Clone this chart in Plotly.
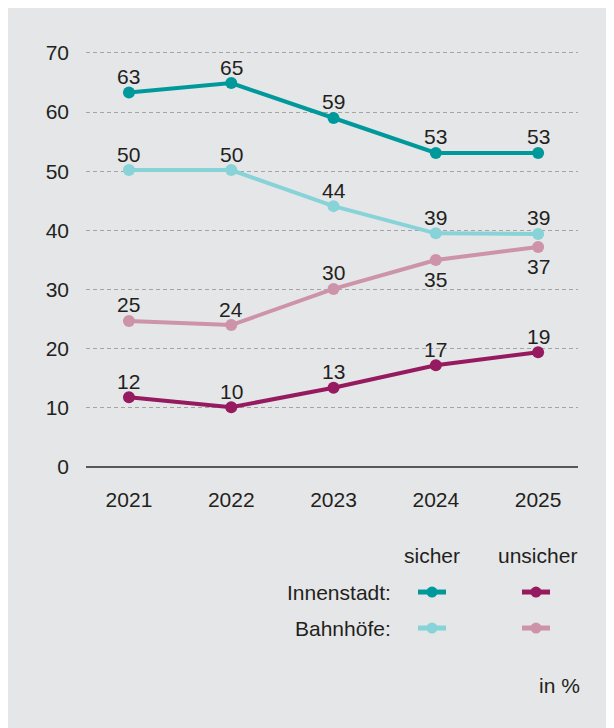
import plotly.graph_objects as go

years = [2021, 2022, 2023, 2024, 2025]
innen_sicher = [63.3, 64.9, 59.0, 53.1, 53.1]
bahn_sicher = [50.2, 50.2, 44.1, 39.5, 39.4]
bahn_unsicher = [24.7, 24.0, 30.1, 35.0, 37.2]
innen_unsicher = [11.8, 10.1, 13.4, 17.2, 19.4]

lbl_innen_sicher = ["63", "65", "59", "53", "53"]
lbl_bahn_sicher = ["50", "50", "44", "39", "39"]
lbl_bahn_unsicher = ["25", "24", "30", "35", "37"]
lbl_innen_unsicher = ["12", "10", "13", "17", "19"]
below_bahn_unsicher = [False, False, False, True, True]

y_ticks = [0, 10, 20, 30, 40, 50, 60, 70]
x_ticktext = ["2021", "2022", "2023", "2024", "2025"]

C_TEAL = "#00999b"
C_CYAN = "#88d3d8"
C_MAG = "#961a5f"
C_PINK = "#cd93a8"
BG = "#e5e6e8"
TXT = "#231f20"
FONT = "Liberation Sans, Arial, sans-serif"
FS = 21

OFF = 8  # page body margin
W, H = 614 - OFF, 728 - OFF
Y_MAX = 71
PX_PER_UNIT = (467 - 53) / 70
L, R, B = 86 - OFF, 578 - OFF, 467 - OFF
T = B - PX_PER_UNIT * Y_MAX  # plot area top in figure px


def px_x(px):
    return (px - OFF - L) / (R - L)


def px_y(py):
    return (B - (py - OFF)) / (B - T)


fig = go.Figure()
annotations = []


def add_series(vals, labels, color, below=None):
    fig.add_trace(go.Scatter(
        x=years, y=vals, mode="lines+markers",
        line=dict(color=color, width=4),
        marker=dict(color=color, size=12),
        cliponaxis=False, showlegend=False, hoverinfo="skip",
    ))
    for i, (xv, yv, t) in enumerate(zip(years, vals, labels)):
        b = below[i] if below else False
        annotations.append(dict(
            x=xv, y=yv, xref="x", yref="y", text=t, showarrow=False,
            xanchor="center", yanchor="middle", yshift=-20 if b else 16,
            font=dict(family=FONT, size=FS, color=TXT)))


add_series(bahn_unsicher, lbl_bahn_unsicher, C_PINK, below_bahn_unsicher)
add_series(innen_unsicher, lbl_innen_unsicher, C_MAG)
add_series(bahn_sicher, lbl_bahn_sicher, C_CYAN)
add_series(innen_sicher, lbl_innen_sicher, C_TEAL)

shapes = []
legend_items = [
    (px_x(432), px_y(592), C_TEAL),
    (px_x(536), px_y(592), C_MAG),
    (px_x(432), px_y(628), C_CYAN),
    (px_x(536), px_y(628), C_PINK),
]
for xc, yc, col in legend_items:
    shapes.append(dict(type="line", xref="paper", yref="paper",
                       xsizemode="pixel", xanchor=xc, x0=-14, x1=14,
                       y0=yc, y1=yc, line=dict(color=col, width=5)))
    shapes.append(dict(type="circle", xref="paper", yref="paper",
                       xsizemode="pixel", ysizemode="pixel",
                       xanchor=xc, yanchor=yc, x0=-5.5, x1=5.5, y0=-5.5, y1=5.5,
                       fillcolor=col, line=dict(width=0)))

legend_texts = [
    dict(text="sicher", x=px_x(432), y=px_y(555), xanchor="center"),
    dict(text="unsicher", x=px_x(537), y=px_y(555), xanchor="center"),
    dict(text="Innenstadt:", x=px_x(393), y=px_y(592), xanchor="right"),
    dict(text="Bahnhöfe:", x=px_x(393), y=px_y(628), xanchor="right"),
    dict(text="in %", x=px_x(582), y=px_y(685), xanchor="right"),
]
for a in legend_texts:
    a.update(xref="paper", yref="paper", showarrow=False, yanchor="middle",
             font=dict(family=FONT, size=FS, color=TXT))
    annotations.append(a)

fig.update_layout(
    width=W, height=H,
    margin=dict(l=L, r=W - R, t=T, b=H - B, pad=0),
    paper_bgcolor=BG, plot_bgcolor=BG,
    font=dict(family=FONT, size=FS, color=TXT),
    shapes=shapes, annotations=annotations,
    xaxis=dict(range=[years[0] - 0.42, years[-1] + 0.39],
               tickvals=years, ticktext=x_ticktext, showgrid=False,
               zeroline=False, showline=False, ticks="",
               tickfont=dict(family=FONT, size=FS, color=TXT),
               ticklabelstandoff=18, fixedrange=True),
    yaxis=dict(range=[0, Y_MAX], tickvals=y_ticks, showgrid=True,
               gridcolor="#a3a4a6", gridwidth=1, griddash="4px,3px",
               zeroline=True, zerolinecolor="#58585a", zerolinewidth=2,
               showline=False, ticks="",
               tickfont=dict(family=FONT, size=FS, color=TXT),
               ticklabelstandoff=16, fixedrange=True),
)

fig.write_html("out.html")
